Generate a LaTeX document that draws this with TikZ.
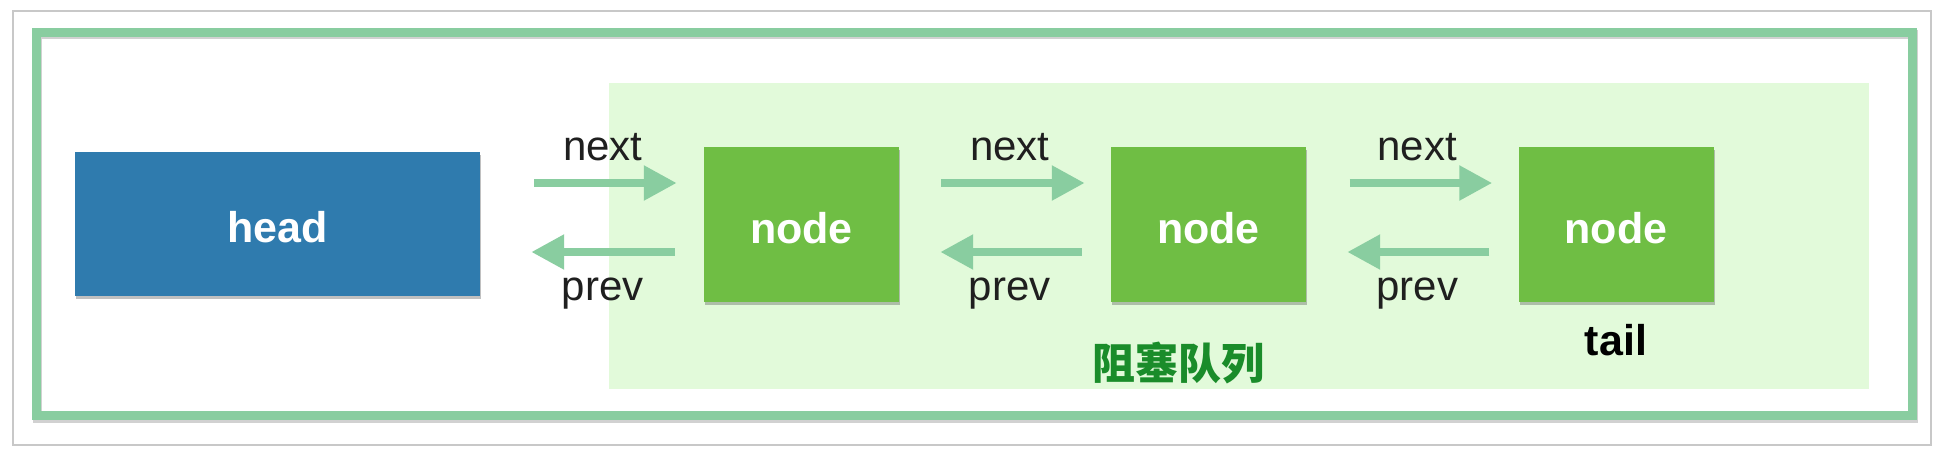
\documentclass[tikz,border=0pt]{standalone}
\usepackage{fontspec}
\setmainfont{Liberation Sans}
\newfontfamily\cjk{Noto Sans CJK SC}
\usetikzlibrary{arrows.meta,calc,shadows}
\definecolor{frameg}{HTML}{89CDA0}
\definecolor{graybd}{HTML}{C8C8C8}
\definecolor{qbg}{HTML}{E2FADA}
\definecolor{headblue}{HTML}{2F7BAE}
\definecolor{nodegreen}{HTML}{6FBE44}
\definecolor{qtext}{HTML}{1A8C2A}
\begin{document}
\begin{tikzpicture}[x=1pt,y=-1pt,
  boxbase/.style={draw=none, inner sep=0pt, text=white, text height=37pt, text depth=0pt,
    font=\bfseries\fontsize{43}{50}\selectfont,
    drop shadow={shadow xshift=1pt, shadow yshift=-2.5pt, opacity=0.35, fill=black!70}},
  headbox/.style={boxbase, fill=headblue, minimum width=405pt, minimum height=144pt},
  nodebox/.style={boxbase, fill=nodegreen, minimum width=195pt, minimum height=155pt},
  lbl/.style={inner sep=0pt, anchor=base, font=\fontsize{42}{48}\selectfont, text=black!88},
  taillbl/.style={inner sep=0pt, anchor=base, font=\bfseries\fontsize{43}{50}\selectfont, text=black},
  cjklbl/.style={inner sep=0pt, font=\cjk\bfseries\fontsize{43}{50}\selectfont, text=qtext},
  arr/.style={draw=frameg, line width=8.3pt, line cap=butt, -{Triangle[length=33pt,width=33pt]}}
]
\useasboundingbox (0,0) rectangle (1934,448);
\fill[white] (0,0) rectangle (1934,448);
\draw[graybd, line width=2pt] (13,11) rectangle (1931,445);
\draw[black!40, opacity=0.45, line width=9pt] (37.5,34.5) rectangle (1913.5,418);
\draw[frameg, line width=9pt] (36,32) rectangle (1912,415.5);
\fill[qbg] (609,83) rectangle (1869,389);

\node[headbox] (head) at (277.5,224) {head};
\node[nodebox] (n1) at (801.5,224.5) {node};
\node[nodebox] (n2) at (1208.5,224.5) {node};
\node[nodebox] (n3) at (1616,224.5) {node};

% next arrows
\draw[arr] ($(head.east)+(54,-41)$) -- ($(n1.west)+(-27,-41.5)$);
\draw[arr] ($(n1.east)+(42,-41.5)$) -- ($(n2.west)+(-26,-41.5)$);
\draw[arr] ($(n2.east)+(43.5,-41.5)$) -- ($(n3.west)+(-26,-41.5)$);
% prev arrows
\draw[arr] ($(n1.west)+(-29,27.5)$) -- ($(head.east)+(51,28)$);
\draw[arr] ($(n2.west)+(-29,27.5)$) -- ($(n1.east)+(41,27.5)$);
\draw[arr] ($(n3.west)+(-29,27.5)$) -- ($(n2.east)+(41,27.5)$);

% labels
\node[lbl] (nx1) at ($(n1.west)+(-101,-64.5)$) {next};
\node[lbl] (nx2) at ($(n2.west)+(-101,-64.5)$) {next};
\node[lbl] (nx3) at ($(n3.west)+(-101,-64.5)$) {next};
\node[lbl] (pv1) at ($(n1.west)+(-101,75.5)$) {prev};
\node[lbl] (pv2) at ($(n2.west)+(-101,75.5)$) {prev};
\node[lbl] (pv3) at ($(n3.west)+(-101,75.5)$) {prev};
\node[taillbl] (tail) at ($(n3.south)+(0,53)$) {tail};
\node[cjklbl] (queue) at (1178,363) {阻塞队列};
\end{tikzpicture}
\end{document}
